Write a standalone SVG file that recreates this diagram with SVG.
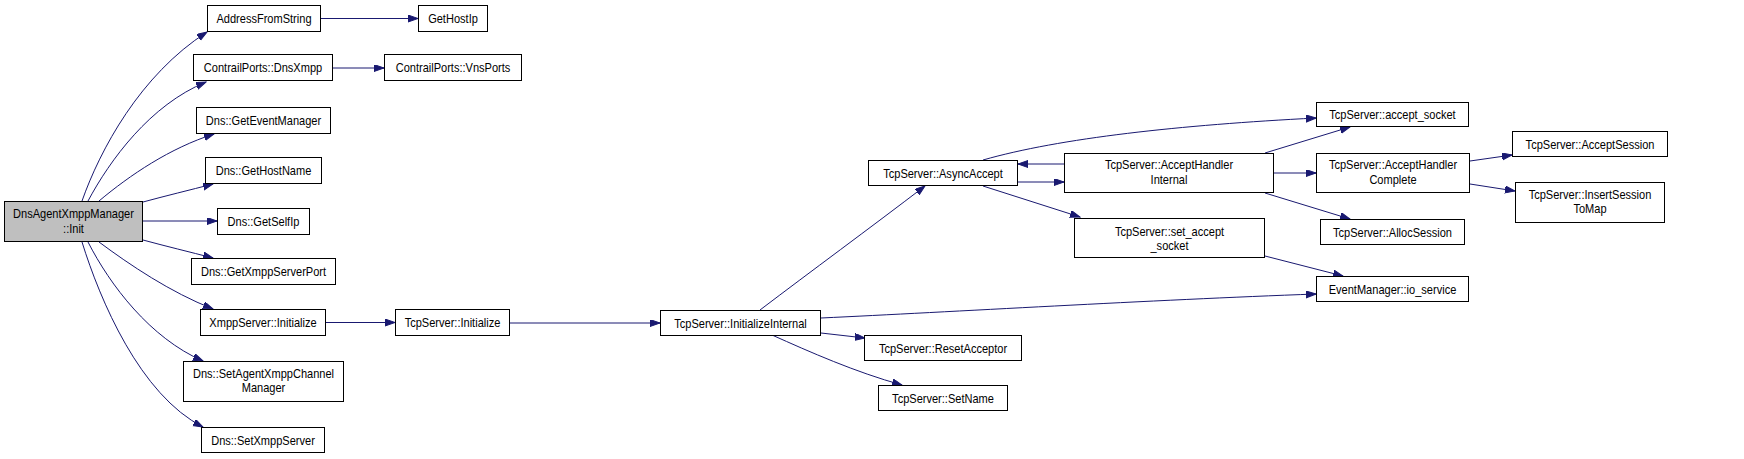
<svg xmlns="http://www.w3.org/2000/svg" width="1744" height="459" viewBox="0 0 1744 459">
<style>
.n rect{fill:#ffffff;stroke:#000000;stroke-width:1}
.n.root rect{fill:#bfbfbf}
.n text{font-family:"Liberation Sans",Arial,sans-serif;font-size:13px;fill:#000000;text-anchor:middle}
.e path{fill:none;stroke:#191970;stroke-width:1;marker-end:url(#arr)}
</style>
<defs>
<marker id="arr" markerUnits="userSpaceOnUse" markerWidth="11" markerHeight="8" refX="10" refY="3.5" orient="auto">
<path d="M0,0 L10,3.5 L0,7 z" fill="#191970" stroke="#191970" stroke-width="1"/>
</marker>
</defs>
<rect width="1744" height="459" fill="#ffffff"/>
<g class="e" id="connectors">
<path d="M82,201 C100,150 140,75 207,32"/>
<path d="M88,201 C110,160 150,105 206,82"/>
<path d="M99,201 C130,175 170,148 214,134"/>
<path d="M143,202 C165,196 190,190 213,184"/>
<path d="M143,221 L217,221"/>
<path d="M143,240 C165,246 190,252 213,258"/>
<path d="M99,242 C130,265 170,292 213,309"/>
<path d="M88,242 C110,285 150,338 203,361"/>
<path d="M82,242 C100,300 140,395 203,427"/>
<path d="M321,18.5 L418,18.5"/>
<path d="M333,68 L384,68"/>
<path d="M326,322.5 L395,322.5"/>
<path d="M510,323 L660,323"/>
<path d="M760,310 C810,272 870,228 925,186"/>
<path d="M821,318 C950,312 1150,300 1316,294"/>
<path d="M821,333 L865,338"/>
<path d="M772,335 C810,352 855,372 902,385"/>
<path d="M983,160 C1060,138 1180,125 1316,118"/>
<path d="M1265,153 L1350,127"/>
<path d="M1064,164 L1018,164"/>
<path d="M1018,182 L1064,182"/>
<path d="M983,186 L1080,217"/>
<path d="M1274,173 L1316,173"/>
<path d="M1265,193 L1350,219"/>
<path d="M1265,256 L1343,276"/>
<path d="M1470,161 L1512,155"/>
<path d="M1470,184 L1515,191"/>
</g>
<g class="n root" id="n_init"><rect x="4.5" y="201.5" width="138" height="40"/><text transform="translate(73.5 217.5) scale(.85 1)">DnsAgentXmppManager</text><text transform="translate(73.5 232.5) scale(.85 1)">::Init</text></g>
<g class="n" id="n_addr"><rect x="207.5" y="5.5" width="113" height="26"/><text transform="translate(264 23) scale(.85 1)">AddressFromString</text></g>
<g class="n" id="n_gethostip"><rect x="418.5" y="5.5" width="69" height="26"/><text transform="translate(453 23) scale(.85 1)">GetHostIp</text></g>
<g class="n" id="n_dnsxmpp"><rect x="193.5" y="54.5" width="139" height="26"/><text transform="translate(263 72) scale(.85 1)">ContrailPorts::DnsXmpp</text></g>
<g class="n" id="n_vnsports"><rect x="384.5" y="54.5" width="137" height="26"/><text transform="translate(453 72) scale(.85 1)">ContrailPorts::VnsPorts</text></g>
<g class="n" id="n_geteventmgr"><rect x="196.5" y="107.5" width="134" height="26"/><text transform="translate(263.5 125) scale(.85 1)">Dns::GetEventManager</text></g>
<g class="n" id="n_gethostname"><rect x="205.5" y="157.5" width="116" height="26"/><text transform="translate(263.5 175) scale(.85 1)">Dns::GetHostName</text></g>
<g class="n" id="n_getselfip"><rect x="217.5" y="208.5" width="92" height="26"/><text transform="translate(263.5 226) scale(.85 1)">Dns::GetSelfIp</text></g>
<g class="n" id="n_getxmppport"><rect x="191.5" y="258.5" width="144" height="26"/><text transform="translate(263.5 276) scale(.85 1)">Dns::GetXmppServerPort</text></g>
<g class="n" id="n_xmppinit"><rect x="200.5" y="309.5" width="125" height="26"/><text transform="translate(263 327) scale(.85 1)">XmppServer::Initialize</text></g>
<g class="n" id="n_tcpinit"><rect x="395.5" y="309.5" width="114" height="26"/><text transform="translate(452.5 327) scale(.85 1)">TcpServer::Initialize</text></g>
<g class="n" id="n_setagent"><rect x="183.5" y="361.5" width="160" height="40"/><text transform="translate(263.5 377.5) scale(.85 1)">Dns::SetAgentXmppChannel</text><text transform="translate(263.5 391.5) scale(.85 1)">Manager</text></g>
<g class="n" id="n_setxmpp"><rect x="201.5" y="427.5" width="123" height="25"/><text transform="translate(263 444.5) scale(.85 1)">Dns::SetXmppServer</text></g>
<g class="n" id="n_initinternal"><rect x="660.5" y="310.5" width="160" height="25"/><text transform="translate(740.5 327.5) scale(.85 1)">TcpServer::InitializeInternal</text></g>
<g class="n" id="n_asyncaccept"><rect x="868.5" y="160.5" width="149" height="25"/><text transform="translate(943 177.5) scale(.85 1)">TcpServer::AsyncAccept</text></g>
<g class="n" id="n_resetacceptor"><rect x="864.5" y="335.5" width="157" height="25"/><text transform="translate(943 352.5) scale(.85 1)">TcpServer::ResetAcceptor</text></g>
<g class="n" id="n_setname"><rect x="878.5" y="385.5" width="129" height="25"/><text transform="translate(943 402.5) scale(.85 1)">TcpServer::SetName</text></g>
<g class="n" id="n_ahi"><rect x="1064.5" y="153.5" width="209" height="39"/><text transform="translate(1169 168.5) scale(.85 1)">TcpServer::AcceptHandler</text><text transform="translate(1169 183.5) scale(.85 1)">Internal</text></g>
<g class="n" id="n_setacceptsocket"><rect x="1074.5" y="218.5" width="190" height="39"/><text transform="translate(1169.5 235.5) scale(.85 1)">TcpServer::set_accept</text><text transform="translate(1169.5 249.5) scale(.85 1)">_socket</text></g>
<g class="n" id="n_acceptsocket"><rect x="1316.5" y="102.5" width="152" height="24"/><text transform="translate(1392.5 119) scale(.85 1)">TcpServer::accept_socket</text></g>
<g class="n" id="n_ahc"><rect x="1316.5" y="153.5" width="153" height="39"/><text transform="translate(1393 168.5) scale(.85 1)">TcpServer::AcceptHandler</text><text transform="translate(1393 183.5) scale(.85 1)">Complete</text></g>
<g class="n" id="n_allocsession"><rect x="1320.5" y="219.5" width="144" height="25"/><text transform="translate(1392.5 236.5) scale(.85 1)">TcpServer::AllocSession</text></g>
<g class="n" id="n_ioservice"><rect x="1316.5" y="276.5" width="152" height="25"/><text transform="translate(1392.5 293.5) scale(.85 1)">EventManager::io_service</text></g>
<g class="n" id="n_acceptsession"><rect x="1512.5" y="131.5" width="155" height="25"/><text transform="translate(1590 148.5) scale(.85 1)">TcpServer::AcceptSession</text></g>
<g class="n" id="n_insertsession"><rect x="1515.5" y="182.5" width="149" height="40"/><text transform="translate(1590 198.5) scale(.85 1)">TcpServer::InsertSession</text><text transform="translate(1590 212.5) scale(.85 1)">ToMap</text></g>
</svg>
